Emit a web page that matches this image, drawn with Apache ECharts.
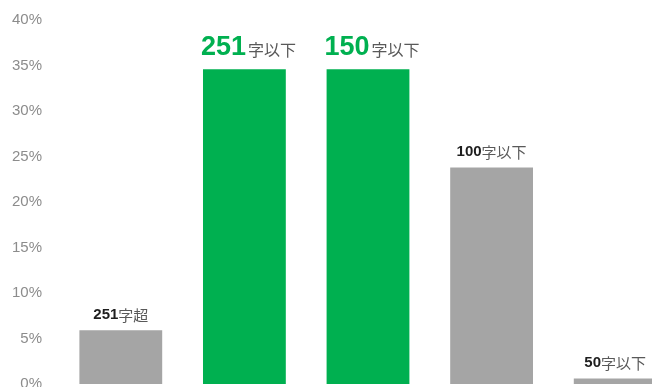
<!DOCTYPE html>
<html>
<head>
<meta charset="utf-8">
<script src="https://cdn.jsdelivr.net/npm/echarts@6/dist/echarts.min.js"></script>
<style>
  html, body { margin: 0; padding: 0; background: #fff; }
  #chart { width: 652px; height: 387px; }
</style>
</head>
<body>
<div id="chart"></div>
<script>
// Share of posts by text length (%)
const categories = ['251字超', '251字以下', '150字以下', '100字以下', '50字以下'];
const values = [5.9, 34.6, 34.6, 23.8, 0.6];
const labelNumbers = ['251', '251', '150', '100', '50'];
const labelSuffixes = ['字超', '字以下', '字以下', '字以下', '字以下'];
const highlighted = ['251字以下', '150字以下'];
const yTicks = [0, 5, 10, 15, 20, 25, 30, 35, 40];

const GREEN = '#00B050';
const GREY = '#A5A5A5';
const NUM_FONT = '"Liberation Sans", Arial, sans-serif';
const CJK_FONT = '"Noto Sans CJK JP", sans-serif';

const chart = echarts.init(document.getElementById('chart'), null, { renderer: 'canvas' });

const seriesData = values.map((v, i) => {
  const hi = highlighted.includes(categories[i]);
  return {
    value: v,
    itemStyle: { color: hi ? GREEN : GREY },
    label: hi
      ? {
          offset: [4, 0],
          formatter: () => '{hn|' + labelNumbers[i] + '}{hs|' + labelSuffixes[i] + '}'
        }
      : {
          formatter: () => '{n|' + labelNumbers[i] + '}{s|' + labelSuffixes[i] + '}'
        }
  };
});

chart.setOption({
  animation: false,
  backgroundColor: '#ffffff',
  // the last category runs past the right edge of the canvas
  grid: { left: 59, top: 20, width: 618, height: 364, outerBoundsMode: 'none', containLabel: false },
  xAxis: {
    type: 'category',
    data: categories,
    axisLine: { show: false },
    axisTick: { show: false },
    axisLabel: { show: false },
    splitLine: { show: false }
  },
  yAxis: {
    type: 'value',
    min: yTicks[0],
    max: yTicks[yTicks.length - 1],
    interval: yTicks[1] - yTicks[0],
    axisLine: { show: false },
    axisTick: { show: false },
    splitLine: { show: false },
    axisLabel: {
      margin: 17,
      color: '#8c8c8c',
      fontSize: 15,
      fontFamily: NUM_FONT,
      formatter: v => v + '%'
    }
  },
  series: [{
    type: 'bar',
    data: seriesData,
    barCategoryGap: '33%',
    label: {
      show: true,
      position: 'top',
      distance: 8,
      rich: {
        hn: { fontFamily: NUM_FONT, fontWeight: 'bold', fontSize: 27, color: GREEN, lineHeight: 29, verticalAlign: 'bottom' },
        hs: { fontFamily: CJK_FONT, fontSize: 16, color: '#595959', lineHeight: 18, verticalAlign: 'bottom', padding: [0, 0, 3, 2] },
        n: { fontFamily: NUM_FONT, fontWeight: 'bold', fontSize: 15, color: '#1e1e1e', lineHeight: 17, verticalAlign: 'bottom' },
        s: { fontFamily: CJK_FONT, fontSize: 15, color: '#595959', lineHeight: 17, verticalAlign: 'bottom' }
      }
    }
  }]
});
</script>
</body>
</html>
